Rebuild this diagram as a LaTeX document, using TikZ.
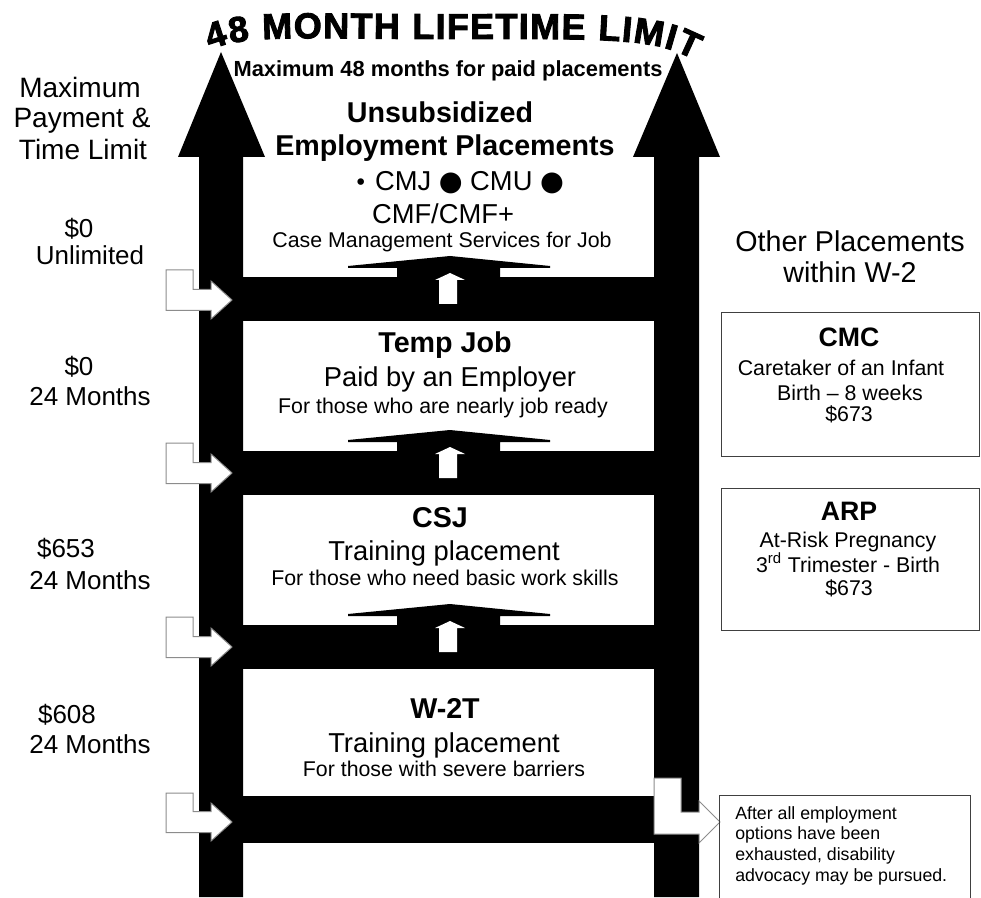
\documentclass[tikz,border=0pt]{standalone}
\usepackage{fontspec}
\setmainfont{Liberation Sans}
\newfontfamily\dotfont{DejaVu Sans}
\newfontfamily\heavyfont{Liberation Sans Bold}[FakeBold=2.5]
\usetikzlibrary{decorations.text}

\begin{document}
\begin{tikzpicture}[x=0.75pt,y=0.75pt,yscale=-1,xscale=1,
  bendarrow/.style={fill=white,draw=black!45,line width=0.75},
  infobox/.style={draw=black!75,line width=0.75},
  hd/.style={font=\fontsize{21.5}{25}\selectfont\bfseries,anchor=base,inner sep=0pt},
  sub/.style={font=\fontsize{20.5}{24}\selectfont,anchor=base,inner sep=0pt},
  note/.style={font=\fontsize{16}{19}\selectfont,anchor=base,inner sep=0pt},
  side/.style={font=\fontsize{19.5}{23}\selectfont,anchor=base,inner sep=0pt}]
\useasboundingbox (0,0) rectangle (981,898);

%Shape: Up Arrow [left]
\fill (199,897) -- (199,157) -- (178,157) -- (221,52) -- (265,157) -- (243,157) -- (243,897) -- cycle ;
%Shape: Up Arrow [right]
\fill (654,897) -- (654,157) -- (633,157) -- (677,53) -- (720,157) -- (699,157) -- (699,897) -- cycle ;

%Shape: Rectangle [rungs]
\fill (243,277) rectangle (654,321) ;
\fill (243,451) rectangle (654,495) ;
\fill (243,625) rectangle (654,669) ;
\fill (243,796) rectangle (654,843) ;

%Shape: Roof [above rungs]
\fill (348,266) -- (450,256) -- (550,266) -- (550,268) -- (500,268) -- (500,277) -- (397,277) -- (397,268) -- (348,268) -- cycle ;
\fill (348,440) -- (450,430) -- (550,440) -- (550,442) -- (500,442) -- (500,451) -- (397,451) -- (397,442) -- (348,442) -- cycle ;
\fill (348,614) -- (450,604) -- (550,614) -- (550,616) -- (500,616) -- (500,625) -- (397,625) -- (397,616) -- (348,616) -- cycle ;

%Shape: Up Arrow [small, white]
\fill[white] (439,304) -- (439,280) -- (435,280) -- (450,273) -- (465,280) -- (457,280) -- (457,304) -- cycle ;
\fill[white] (439,478) -- (439,454) -- (435,454) -- (450,447) -- (465,454) -- (457,454) -- (457,478) -- cycle ;
\fill[white] (439,652) -- (439,628) -- (435,628) -- (450,621) -- (465,628) -- (457,628) -- (457,652) -- cycle ;

%Shape: Bent Arrow [left side]
\draw[bendarrow] (166,270) -- (193,270) -- (193,289.5) -- (211,289.5) -- (211,281) -- (232,300) -- (211,319) -- (211,310.5) -- (166,310.5) -- cycle ;
\draw[bendarrow] (166,443) -- (193,443) -- (193,462.5) -- (211,462.5) -- (211,454) -- (232,473) -- (211,492) -- (211,483.5) -- (166,483.5) -- cycle ;
\draw[bendarrow] (166,617) -- (193,617) -- (193,636.5) -- (211,636.5) -- (211,628) -- (232,647) -- (211,666) -- (211,657.5) -- (166,657.5) -- cycle ;
\draw[bendarrow] (166,793) -- (193,793) -- (193,811.5) -- (211,811.5) -- (211,803) -- (232,822) -- (211,841) -- (211,832.5) -- (166,832.5) -- cycle ;
%Shape: Bent Arrow [right side]
\draw[bendarrow] (654,778) -- (681,778) -- (681,812) -- (699,812) -- (699,801) -- (720,822) -- (699,843) -- (699,834) -- (654,834) -- cycle ;

%Shape: Rectangle [other placements]
\draw[infobox] (721,313) rectangle (979,456) ;
\draw[infobox] (721,488) rectangle (979,630) ;
\draw[infobox] (719,898) -- (719,795) -- (970,795) -- (970,898) ;

%Curve Text [title]
\path[decorate,decoration={text along path,text align=fit to path,
  text={|\heavyfont\fontsize{27}{27}\selectfont|48 MONTH LIFETIME LIMIT}}]
  (210,50) .. controls (245,34) and (300,39) .. (450,39) .. controls (600,39) and (655,37) .. (694,60) ;

% Text Node
\node[font=\fontsize{16.4}{19}\selectfont\bfseries,anchor=base,inner sep=0pt] (maxpaid) at (448,77) {Maximum 48 months for paid placements};

% Text Node [left column]
\node[font=\fontsize{21}{24}\selectfont,anchor=base,inner sep=0pt] (maxhd1) at (80,98) {Maximum};
\node[font=\fontsize{21}{24}\selectfont,anchor=base,inner sep=0pt] (maxhd2) at (82,128) {Payment \&};
\node[font=\fontsize{21}{24}\selectfont,anchor=base,inner sep=0pt] (maxhd3) at (83,160) {Time Limit};
\node[side] (pay1) at (79,238) {\$0};
\node[side] (lim1) at (90,265) {Unlimited};
\node[side] (pay2) at (79,375) {\$0};
\node[side] (lim2) at (90,405) {24 Months};
\node[side] (pay3) at (66,557) {\$653};
\node[side] (lim3) at (90,589) {24 Months};
\node[side] (pay4) at (67,723) {\$608};
\node[side] (lim4) at (90,753) {24 Months};

% Text Node [unsubsidized]
\node[hd] (unsub1) at (440,123) {Unsubsidized};
\node[hd] (unsub2) at (445,156) {Employment Placements};
\node[sub] (cmlist) at (459,191) {{\dotfont\fontsize{17}{17}\selectfont•}\ CMJ {\dotfont●} CMU {\dotfont●}};
\node[sub] (cmf) at (443,224) {CMF/CMF+};
\node[note] (cmsvc) at (442,248) {Case Management Services for Job};

% Text Node [temp job]
\node[hd] (temp) at (445,353) {Temp Job};
\node[sub] (tempsub) at (450,386) {Paid by an Employer};
\node[note] (tempnote) at (443,413) {For those who are nearly job ready};

% Text Node [csj]
\node[hd] (csj) at (440,527) {CSJ};
\node[sub] (csjsub) at (444,560) {Training placement};
\node[note] (csjnote) at (445,585) {For those who need basic work skills};

% Text Node [w-2t]
\node[hd] (wtt) at (445,718) {W-2T};
\node[sub] (wttsub) at (444,752) {Training placement};
\node[note] (wttnote) at (444,776) {For those with severe barriers};

% Text Node [right column]
\node[font=\fontsize{21.5}{25}\selectfont,anchor=base,inner sep=0pt] (other1) at (850,252) {Other Placements};
\node[font=\fontsize{21.5}{25}\selectfont,anchor=base,inner sep=0pt] (other2) at (850,283) {within W-2};

\node[font=\fontsize{20}{24}\selectfont\bfseries,anchor=base,inner sep=0pt] (cmc) at (849,347) {CMC};
\node[note] (cmc1) at (841,375) {Caretaker of an Infant};
\node[note] (cmc2) at (850,400) {Birth -- 8 weeks};
\node[note] (cmc3) at (849,421) {\$673};

\node[font=\fontsize{20}{24}\selectfont\bfseries,anchor=base,inner sep=0pt] (arp) at (849,520) {ARP};
\node[note] (arp1) at (848,547) {At-Risk Pregnancy};
\node[note] (arp2) at (848,572) {3\textsuperscript{rd} Trimester - Birth};
\node[note] (arp3) at (849,595) {\$673};

% Text Node [after]
\node[font=\fontsize{13.3}{15.5}\selectfont,anchor=north west,align=left,inner sep=0pt] (after) at (735,806) {After all employment\\options have been\\exhausted, disability\\advocacy may be pursued.};

\end{tikzpicture}
\end{document}
